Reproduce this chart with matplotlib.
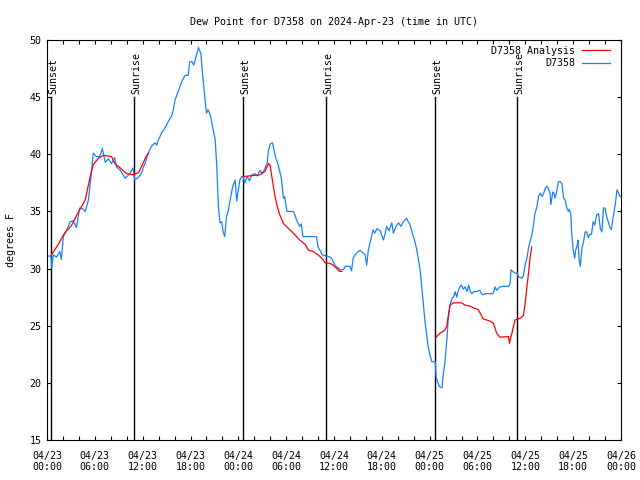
import numpy as np
import matplotlib
matplotlib.use("Agg")
from matplotlib import pyplot as plt

# hours since 2024-04-23 00:00 UTC
obs_hours = [0.0, 0.5, 0.6, 0.8, 1.2, 1.6, 1.8, 2.05, 2.5, 2.9, 3.3, 3.7, 3.9, 4.1, 4.55, 4.8,
             5.2, 5.6, 5.8, 6.2, 6.6, 6.95, 7.3, 7.7, 8.1, 8.5, 8.7, 9.2, 9.8, 10.4, 10.8, 11.0,
             11.5, 11.9, 12.1, 12.3, 12.7, 13.1, 13.55, 13.75, 13.97, 14.4, 14.8, 15.2, 15.65, 15.85,
             16.06, 16.5, 16.9, 17.3, 17.7, 17.9, 18.2, 18.4, 18.8, 19.0, 19.3, 19.5, 19.8, 20.0,
             20.2, 20.5, 20.8, 21.1, 21.3, 21.5, 21.7, 21.9, 22.1, 22.3, 22.5, 22.75, 23.05, 23.3,
             23.6, 23.8, 24.0, 24.2, 24.4, 24.6, 24.8, 25.1, 25.4, 25.7, 26.1, 26.4, 26.7, 27.0,
             27.3, 27.6, 27.8, 28.0, 28.3, 28.5, 28.7, 28.95, 29.2, 29.4, 29.65, 29.8, 29.95, 30.1,
             30.9, 31.1, 31.3, 31.7, 31.9, 32.1, 33.8, 34.0, 34.25, 34.5, 35.1, 35.5, 35.7, 35.9,
             36.1, 36.35, 36.8, 37.2, 37.4, 38.0, 38.2, 38.4, 38.65, 39.05, 39.3, 39.6, 39.9, 40.1,
             40.3, 40.5, 40.7, 40.9, 41.1, 41.4, 41.8, 42.2, 42.4, 42.6, 42.9, 43.25, 43.45, 43.8,
             44.1, 44.4, 44.7, 45.1, 45.3, 45.5, 45.95, 46.1, 46.4, 46.6, 46.8, 47.0, 47.2, 47.4,
             47.6, 47.8, 48.05, 48.27, 48.7, 48.8, 49.0, 49.2, 49.4, 49.55, 49.7, 49.9, 50.15, 50.35,
             50.55, 50.8, 51.0, 51.2, 51.4, 51.6, 51.8, 52.0, 52.2, 52.45, 52.7, 52.9, 53.1, 53.3,
             53.5, 53.9, 54.3, 54.5, 54.7, 54.9, 55.3, 55.8, 56.0, 56.2, 56.4, 56.8, 57.25, 57.9,
             58.1, 58.2, 58.4, 58.7, 59.0, 59.1, 59.56, 59.76, 59.97, 60.2, 60.4, 60.6, 60.8, 61.0,
             61.2, 61.45, 61.65, 61.85, 62.1, 62.3, 62.5, 62.7, 62.9, 63.1, 63.2, 63.45, 63.6, 63.7,
             63.9, 64.15, 64.4, 64.6, 64.8, 65.0, 65.2, 65.4, 65.5, 65.7, 65.8, 66.0, 66.2, 66.3,
             66.5, 66.6, 66.75, 66.9, 67.1, 67.3, 67.5, 67.7, 67.9, 68.1, 68.3, 68.5, 68.7, 68.95,
             69.2, 69.4, 69.6, 69.8, 70.0, 70.2, 70.4, 70.6, 70.8, 71.0, 71.3, 71.5, 71.7, 71.9]
obs_dewpt = [31.1, 31.1, 30.05, 31.2, 31.0, 31.5, 30.8, 32.8, 33.4, 34.1, 34.2, 33.6, 34.5, 35.3, 35.2, 35.0,
             36.0, 38.6, 40.1, 39.8, 39.8, 40.5, 39.3, 39.6, 39.2, 39.7, 38.9, 38.6, 37.9, 38.3, 38.8, 37.75,
             38.0, 38.4, 38.9, 39.2, 40.1, 40.7, 41.0, 40.8, 41.25, 41.9, 42.3, 42.85, 43.4, 43.9,
             44.75, 45.6, 46.35, 46.9, 46.9, 48.1, 48.1, 47.8, 48.8, 49.35, 48.8, 47.1, 45.0, 43.6,
             43.9, 43.4, 42.3, 41.25, 38.9, 35.4, 34.0, 34.1, 33.2, 32.8, 34.5, 35.1, 36.3, 37.2,
             37.75, 35.9, 36.9, 37.75, 38.05, 38.05, 37.5, 38.05, 37.7, 38.2, 38.3, 38.1, 38.6, 38.3,
             38.7, 39.2, 40.4, 40.9, 41.0, 40.3, 39.65, 39.2, 38.5, 37.9, 36.15, 36.3, 35.7, 35.0,
             35.0, 34.7, 34.25, 33.7, 33.9, 32.8, 32.8, 31.9, 31.6, 31.2, 31.1, 31.0, 30.9, 30.6,
             30.3, 30.15, 29.9, 29.9, 30.2, 30.2, 29.8, 30.9, 31.2, 31.5, 31.6, 31.4, 31.2, 30.3,
             31.6, 32.2, 32.8, 33.4, 33.1, 33.5, 33.3, 32.5, 33.0, 33.7, 33.3, 34.0, 33.1, 33.7,
             34.0, 33.7, 34.1, 34.4, 34.1, 33.9, 32.8, 32.5, 31.6, 30.75, 29.9, 28.4, 27.0, 25.5,
             24.35, 23.2, 22.4, 21.85, 21.85, 20.55, 20.1, 19.7, 19.6, 19.6, 20.7, 21.7, 23.75, 25.8,
             26.8, 27.4, 27.5, 27.98, 27.5, 28.1, 28.4, 28.55, 28.2, 28.4, 28.0, 28.55, 28.0, 27.8,
             27.98, 27.98, 28.1, 27.8, 27.7, 27.8, 27.8, 27.8, 27.85, 28.4, 28.1, 28.4, 28.45, 28.45,
             28.7, 29.9, 29.75, 29.6, 29.6, 29.3, 29.15, 29.4, 30.3, 30.9, 31.8, 32.35, 32.9, 33.7,
             34.8, 35.4, 36.3, 36.6, 36.3, 36.6, 37.0, 37.2, 37.0, 36.6, 35.6, 36.7, 36.6, 36.15,
             36.6, 37.6, 37.6, 37.4, 36.15, 36.0, 35.3, 35.0, 35.2, 34.8, 33.2, 31.6, 30.9, 31.6,
             32.0, 32.5, 30.75, 30.2, 31.8, 32.35, 33.2, 33.2, 32.7, 33.0, 33.0, 34.1, 33.8, 34.7,
             34.8, 33.5, 33.2, 35.3, 35.3, 34.55, 34.1, 33.6, 33.4, 34.45, 35.7, 36.9, 36.6, 36.3]

# analysis, three night-time pieces separated by NaN
ana_hours = [0.55, 1.4, 2.2, 3.1, 3.9, 4.8, 5.4, 5.8, 6.5, 7.1, 8.1, 8.5, 9.2, 10.0, 10.8, 11.5,
             12.1, 12.5, 12.75, np.nan,
             24.6, 26.7, 27.35, 27.8, 28.0, 28.2, 28.4, 28.6, 28.9, 29.2, 29.65, 30.3, 30.9, 31.7,
             32.4, 32.8, 33.4, 34.0, 34.5, 34.9, 35.5, 35.9, 36.35, 36.7, 37.0, np.nan,
             48.8, 49.3, 49.9, 50.15, 50.35, 50.55, 51.0, 52.0, 52.45, 53.1, 53.7, 54.1, 54.5, 54.7,
             55.6, 56.0, 56.2, 56.4, 56.8, 57.9, 58.0, 58.4, 58.7, 59.35, 59.76, 59.97, 60.2, 60.4,
             60.6, 60.8]
ana_dewpt = [31.2, 32.1, 33.1, 33.8, 34.9, 36.0, 38.0, 39.1, 39.7, 39.9, 39.8, 39.2, 38.8, 38.3, 38.2, 38.4,
             39.3, 39.9, 40.1, np.nan,
             38.05, 38.2, 38.5, 39.2, 39.0, 38.05, 37.2, 36.3, 35.4, 34.7, 33.95, 33.5, 33.1, 32.5,
             32.1, 31.6, 31.5, 31.2, 30.9, 30.5, 30.45, 30.3, 30.0, 29.75, 29.75, np.nan,
             24.0, 24.35, 24.6, 25.0, 25.9, 26.8, 27.0, 27.0, 26.8, 26.7, 26.5, 26.4, 25.9, 25.6,
             25.4, 25.2, 24.8, 24.35, 24.0, 24.05, 23.45, 24.6, 25.5, 25.65, 25.9, 26.9, 28.4, 29.6,
             31.0, 31.9]

sun_hours = [0.5, 10.9, 24.6, 35.0, 48.7, 59.0]
sun_names = ["Sunset", "Sunrise", "Sunset", "Sunrise", "Sunset", "Sunrise"]

tick_hours = list(range(0, 73, 6))
tick_labels = ["04/%02d\n%02d:00" % (23 + h // 24, h % 24) for h in tick_hours]

plt.rcParams['font.family'] = 'DejaVu Sans Mono'
plt.rcParams['font.size'] = 7.2

fig = plt.figure(figsize=(6.4, 4.8), dpi=100)
ax = fig.add_axes([47/640, 40/480, 574/640, 400/480])

for h, name in zip(sun_hours, sun_names):
    ax.plot([h, h], [15, 45.0], color='black', lw=1.0, zorder=1)
    ax.text(h + 0.25, 45.3, name, rotation=90, ha='center', va='bottom', fontsize=7.2)

ax.plot(ana_hours, ana_dewpt, color='#ff0000', lw=0.9, label='D7358 Analysis', zorder=3)
ax.plot(obs_hours, obs_dewpt, color='#1a80ff', lw=0.9, label='D7358', zorder=2)

ax.set_xlim(0, 72)
ax.set_ylim(15, 50)
ax.set_xticks(tick_hours)
ax.set_xticklabels(tick_labels, linespacing=1.15)
ax.set_xticks(range(0, 73, 2), minor=True)
ax.set_yticks(range(15, 51, 5))
ax.tick_params(which='both', direction='in', top=True, right=True, length=3, width=0.8)
ax.tick_params(axis='x', pad=8)
ax.tick_params(axis='y', pad=4)
for s in ax.spines.values():
    s.set_linewidth(0.8)

ax.set_ylabel("degrees F", labelpad=10)
ax.set_title("Dew Point for D7358 on 2024-Apr-23 (time in UTC)", pad=11, fontsize=7.2)

ax.legend(loc='upper right', bbox_to_anchor=(1 - 11/574, 1 - 6/400), frameon=False,
          markerfirst=False, handlelength=2.8, handletextpad=0.7, labelspacing=0.25,
          borderpad=0, borderaxespad=0, fontsize=7.2)

fig.savefig("out.png", dpi=100)
